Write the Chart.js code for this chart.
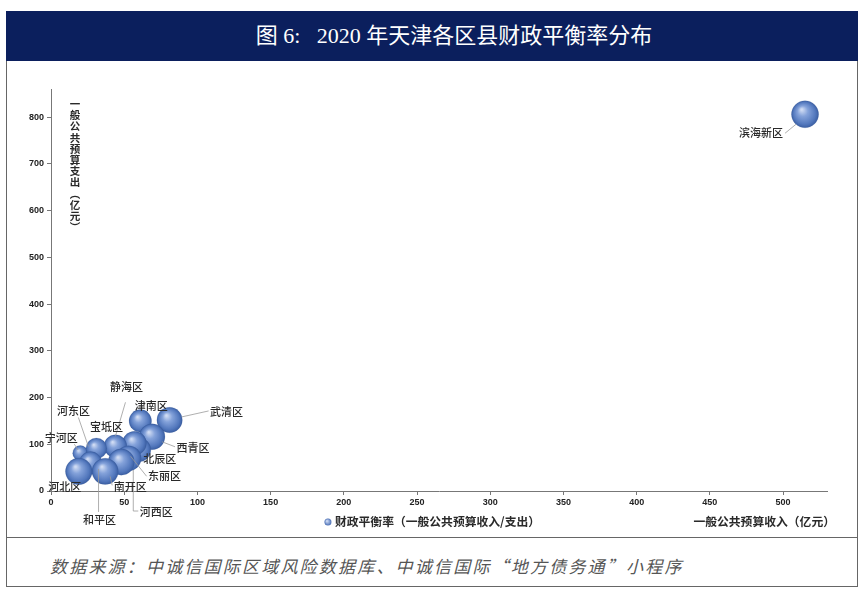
<!DOCTYPE html>
<html>
<head>
<meta charset="utf-8">
<script src="https://cdn.jsdelivr.net/npm/chart.js@4.4.1/dist/chart.umd.min.js"></script>
<style>
  body { margin:0; background:#fff; width:866px; height:592px; position:relative; overflow:hidden; }
  #frame { position:absolute; left:6px; top:11px; width:852px; height:576px; border:1px solid #666; box-sizing:border-box; }
  #titlebar { position:absolute; left:6px; top:11px; width:852px; height:50px; background:#0b1f5d;
              color:#fff; font-family:"Liberation Serif","Noto Sans CJK SC",serif; font-size:22px;
              line-height:50px; text-align:center; padding-left:44px; box-sizing:border-box; }
  #sep { position:absolute; left:6px; top:537px; width:852px; height:0; border-top:1px solid #666; }
  #source { position:absolute; left:50px; top:553px; font-family:"Noto Sans CJK SC",sans-serif; font-style:italic;
            font-size:17px; letter-spacing:2.2px; color:#555; }
  #chart { position:absolute; left:7px; top:61px; }
</style>
</head>
<body>
<div id="frame"></div>
<div id="titlebar">图 6:&nbsp;&nbsp; 2020 年天津各区县财政平衡率分布</div>
<canvas id="chart" width="851" height="476"></canvas>
<div id="sep"></div>
<div id="source">数据来源：中诚信国际区域风险数据库、中诚信国际“地方债务通”小程序</div>
<script>
//-----------------Data (亿元)
const districts   = ['滨海新区','武清区','津南区','西青区','北辰区','静海区','宝坻区','宁河区','河东区','东丽区','河西区','和平区','南开区','河北区']
const revenue     = [515, 81, 61, 69, 60, 57, 44, 20, 31, 53, 48, 27, 37, 19]     // 一般公共预算收入
const expenditure = [806, 152, 150, 116, 88, 102, 96, 81, 91, 70, 62, 60, 42, 42] // 一般公共预算支出
const balanceRate = [0.64, 0.56, 0.44, 0.58, 0.50, 0.50, 0.45, 0.20, 0.38, 0.55, 0.60, 0.45, 0.60, 0.62] // 财政平衡率
const xTicks = {min:0, max:530, step:50}
const yTicks = {min:0, max:860, step:100}
const seriesName = '财政平衡率（一般公共预算收入/支出）'
const xTitle = '一般公共预算收入（亿元）'
const yTitle = ['一','般','公','共','预','算','支','出','︵','亿','元','︶']

//-----------------Label placement (pixel offsets from bubble centre)
const labelLayout = {
  '滨海新区': {dx:-44, dy:19,  line:[[-20,19],[-9,10]]},
  '武清区':   {dx:57,  dy:-8,  line:[[39,-9],[12,-3]]},
  '津南区':   {dx:11,  dy:-15},
  '西青区':   {dx:41,  dy:11,  line:[[23,10],[10,5]]},
  '北辰区':   {dx:21,  dy:9},
  '静海区':   {dx:-8,  dy:-57, line:[[-9,-41],[-19,-7]]},
  '宝坻区':   {dx:-9,  dy:-19},
  '宁河区':   {dx:-19, dy:-15, line:[[-6,-9],[-2,-3]]},
  '河东区':   {dx:-23, dy:-38, line:[[-18,-31],[-8,-2]]},
  '东丽区':   {dx:36,  dy:18,  line:[[18,18],[2,-2]]},
  '河西区':   {dx:35,  dy:50,  line:[[17,49],[12,49],[12,8]]},
  '和平区':   {dx:9,   dy:57,  line:[[8,49],[8,6]]},
  '南开区':   {dx:25,  dy:15,  line:[[7,14],[5,5]]},
  '河北区':   {dx:-14, dy:15}
}

function bubbleRadius(i){
  return 17 * Math.sqrt(balanceRate[i])
}

// shaded sphere look
function sphereColor(ctx){
  const chart = ctx.chart
  const i = ctx.dataIndex
  if (i === undefined || !chart.scales.x) return '#5b80c6'
  const x = chart.scales.x.getPixelForValue(revenue[i])
  const y = chart.scales.y.getPixelForValue(expenditure[i])
  if (!isFinite(x) || !isFinite(y)) return '#5b80c6'
  const r = bubbleRadius(i)
  const g = chart.ctx.createRadialGradient(x - r*0.25, y - r*0.35, r*0.05, x, y, r)
  g.addColorStop(0, '#cfdbf3')
  g.addColorStop(0.35, '#84a2da')
  g.addColorStop(0.8, '#5378bd')
  g.addColorStop(1, '#3a5ea2')
  return g
}

const labelPlugin = {
  id:'labels',
  afterDatasetsDraw(chart){
    const ctx = chart.ctx
    const meta = chart.getDatasetMeta(0)
    ctx.save()
    ctx.font = '500 11px "Noto Sans CJK SC", sans-serif'
    ctx.textAlign = 'center'
    ctx.textBaseline = 'middle'
    meta.data.forEach((pt, i) => {
      const lay = labelLayout[districts[i]]
      if (lay.line){
        ctx.strokeStyle = '#9a9a9a'
        ctx.lineWidth = 0.8
        ctx.beginPath()
        lay.line.forEach((p, k) => {
          if (k === 0) ctx.moveTo(pt.x + p[0], pt.y + p[1])
          else ctx.lineTo(pt.x + p[0], pt.y + p[1])
        })
        ctx.stroke()
      }
      ctx.fillStyle = '#2a2a2a'
      ctx.fillText(districts[i], pt.x + lay.dx, pt.y + lay.dy)
    })
    ctx.restore()
  },
  afterDraw(chart){
    const ctx = chart.ctx
    const area = chart.chartArea
    ctx.save()
    ctx.fillStyle = '#2a2a2a'
    ctx.font = 'bold 10.5px "Noto Sans CJK SC", sans-serif'
    ctx.textBaseline = 'middle'
    // y title, stacked
    ctx.textAlign = 'center'
    yTitle.forEach((c, k) => {
      ctx.fillText(c, area.left + 24, area.top + 15 + k * 11.2)
    })
    // x title
    ctx.font = 'bold 11.8px "Noto Sans CJK SC", sans-serif'
    ctx.textAlign = 'right'
    ctx.fillText(xTitle, area.right + 8, 461)
    // legend
    ctx.textAlign = 'left'
    const w = ctx.measureText(seriesName).width
    const lx = chart.width / 2 - (w + 10) / 2
    const g = ctx.createRadialGradient(lx + 2, 460, 0.5, lx + 3, 461, 3.5)
    g.addColorStop(0, '#c8d6f2')
    g.addColorStop(1, '#4a6fb5')
    ctx.fillStyle = g
    ctx.beginPath()
    ctx.arc(lx + 3, 461, 3.5, 0, Math.PI * 2)
    ctx.fill()
    ctx.fillStyle = '#2a2a2a'
    ctx.fillText(seriesName, lx + 10, 461)
    ctx.restore()
  }
}

function dropOddTicks(step){
  return function(scale){
    scale.ticks = scale.ticks.filter(t => t.value % step === 0)
  }
}

const points = revenue.map((v, i) => ({x: v, y: expenditure[i]}))

new Chart(document.getElementById('chart'), {
  type:'bubble',
  data:{
    datasets:[{
      label: seriesName,
      data: points,
      radius: ctx => bubbleRadius(ctx.dataIndex),
      backgroundColor: sphereColor,
      borderColor: 'rgba(50,80,140,0.3)',
      borderWidth: 0.5
    }]
  },
  options:{
    responsive:false,
    animation:false,
    events:[],
    layout:{ padding:{left:0, top:28, right:31, bottom:0} },
    plugins:{ legend:{display:false}, tooltip:{enabled:false} },
    scales:{
      x:{
        type:'linear', min:xTicks.min, max:xTicks.max,
        afterFit(scale){ scale.height = 46 },
        afterBuildTicks: dropOddTicks(xTicks.step),
        ticks:{ stepSize:xTicks.step, color:'#222', padding:2, maxRotation:0,
                font:{family:'Arial, "Liberation Sans"', size:9, weight:'bold'} },
        grid:{ drawOnChartArea:false, tickLength:4, color:'#777' },
        border:{ color:'#777' }
      },
      y:{
        type:'linear', min:yTicks.min, max:yTicks.max,
        afterFit(scale){ scale.width = 44 },
        afterBuildTicks: dropOddTicks(yTicks.step),
        ticks:{ stepSize:yTicks.step, color:'#222', padding:3,
                font:{family:'Arial, "Liberation Sans"', size:9, weight:'bold'} },
        grid:{ drawOnChartArea:false, tickLength:4, color:'#777' },
        border:{ color:'#777' }
      }
    }
  },
  plugins:[labelPlugin]
})
</script>
</body>
</html>
